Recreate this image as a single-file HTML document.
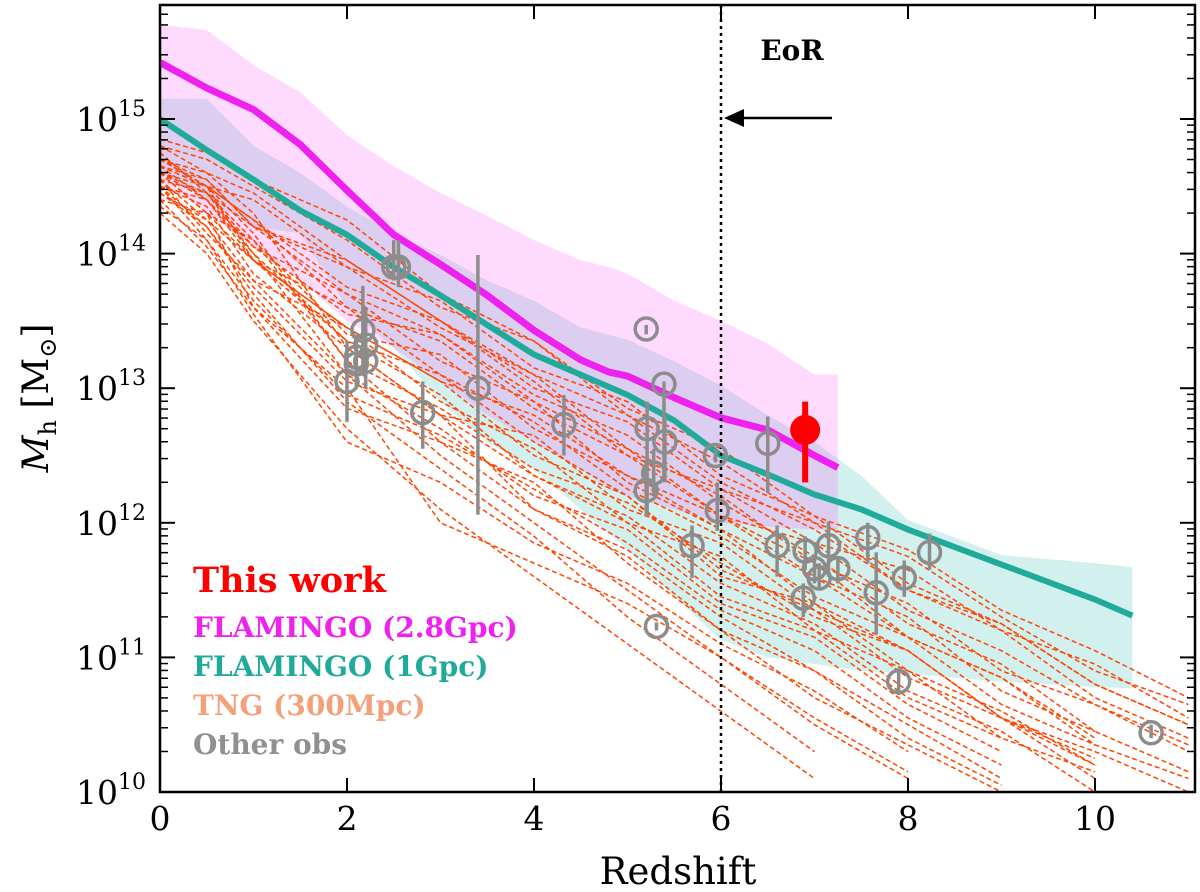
<!DOCTYPE html>
<html><head><meta charset="utf-8"><style>
html,body{margin:0;padding:0;background:#fff;}
svg{display:block;font-family:"DejaVu Serif","Liberation Serif",serif;}
</style></head><body>
<svg id="chart" width="1200" height="892" viewBox="0 0 1200 892">
<defs><clipPath id="clip"><rect x="160" y="5" width="1035" height="787"/></clipPath></defs>
<g id="bands" clip-path="url(#clip)"></g>
<g id="tng" clip-path="url(#clip)"></g>
<g id="lines" clip-path="url(#clip)"></g>
<line x1="721" y1="5" x2="721" y2="792" stroke="#000" stroke-width="2.5" stroke-dasharray="3,4"/>
<g id="obs" clip-path="url(#clip)"></g>
<g id="axes"></g>
<text x="792" y="60" font-size="28" font-weight="bold" text-anchor="middle">EoR</text>
<line x1="832" y1="118" x2="740" y2="118" stroke="#000" stroke-width="2.5"/>
<polygon points="724,118 744,109 744,127" fill="#000"/>
<g font-weight="bold" font-size="28">
<text x="193" y="592" fill="#ff0000" font-size="35">This work</text>
<text x="193" y="637" fill="#ee22ee">FLAMINGO (2.8Gpc)</text>
<text x="193" y="676" fill="#20aa9a">FLAMINGO (1Gpc)</text>
<text x="193" y="715" fill="#f4a07a">TNG (300Mpc)</text>
<text x="193" y="754" fill="#909090">Other obs</text>
</g>
<text x="678" y="884" font-size="37" text-anchor="middle">Redshift</text>
<text transform="translate(48,398) rotate(-90)" font-size="36" text-anchor="middle"><tspan font-style="italic">M</tspan><tspan font-size="24" dy="8">h</tspan><tspan dy="-8"> [M</tspan><tspan font-size="24" dy="8">⊙</tspan><tspan dy="-8">]</tspan></text>
</svg>
<script>
const magZ=[0,0.5,1,1.5,2,2.5,3,3.5,4,4.5,4.8,5,5.5,6,6.5,7,7.25];
const magLine=[15.42,15.23,15.07,14.81,14.47,14.14,13.92,13.69,13.43,13.21,13.12,13.09,12.93,12.78,12.69,12.50,12.41];
const magUp=[15.7,15.66,15.4,15.2,14.88,14.65,14.45,14.28,14.1,13.95,13.9,13.85,13.65,13.5,13.33,13.1,13.1];
const magLo=[14.55,14.3,14.05,13.8,13.5,13.3,13.05,12.8,12.6,12.4,12.25,12.2,12.1,12.0,11.97,11.95,11.95];
const tealZ=[0,0.5,1,1.5,2,2.5,3,3.5,4,4.5,5,5.5,6,6.5,7,7.5,8,9,10,10.4];
const tealLine=[15.0,14.77,14.55,14.32,14.14,13.9,13.69,13.47,13.25,13.1,12.95,12.76,12.5,12.36,12.21,12.1,11.95,11.69,11.43,11.31];
const tealUp=[15.15,15.15,14.8,14.6,14.35,14.15,13.99,13.8,13.65,13.45,13.36,13.2,13.02,12.8,12.6,12.35,12.02,11.76,11.7,11.67];
const tealLo=[14.6,14.4,14.2,14.15,13.6,13.3,12.9,12.6,12.4,12.1,11.8,11.45,11.13,11.0,10.95,10.9,10.88,10.82,10.78,10.77];
const tngZ=[0,0.5,1,2,3,4,5,6,7,8,9,10,11];
const tngLines=[
[14.8,14.7,14.5,14.1,13.6,13.35,12.8,12.45,12.0,11.75,11.3,10.9,10.65],
[14.7,14.55,14.2,13.95,13.5,13.1,12.8,12.3,11.95,11.5,11.25,10.8,10.5],
[14.6,14.5,14.25,13.6,13.35,12.85,12.5,12.05,11.85,11.35,11.05,10.65,10.35],
[14.75,14.45,14.1,13.4,13.25,12.7,12.35,11.95,11.6,11.15,10.85,10.4,null],
[14.5,14.35,13.85,13.3,12.8,12.65,12.1,11.85,11.35,11.05,10.55,10.2,null],
[14.65,14.4,14.05,13.55,13.4,12.95,12.65,12.15,11.75,11.25,10.95,10.45,10.15],
[14.55,14.15,13.8,13.1,12.7,12.2,11.95,11.4,11.15,10.65,10.3,null,null],
[14.8,14.6,14.45,13.95,13.5,13.05,12.5,12.25,11.85,11.65,11.2,10.95,10.55],
[14.6,14.3,13.95,13.45,13.05,12.8,12.35,12.05,11.6,11.3,10.75,10.45,null],
[14.7,14.5,13.95,13.35,12.95,12.35,12.05,11.55,11.25,10.75,10.45,10.0,null],
[14.5,14.1,13.65,12.95,12.65,12.25,11.85,11.35,11.05,10.55,10.2,null,null],
[14.85,14.75,14.55,14.25,13.7,13.35,12.85,12.55,12.05,11.8,11.35,11.05,10.7],
[14.6,14.45,14.05,13.7,13.2,12.9,12.3,11.95,11.4,11.05,10.55,10.25,null],
[14.4,14.05,13.6,12.85,12.6,12.1,11.75,11.2,10.9,10.4,10.05,null,null],
[14.7,14.5,14.25,13.75,13.5,13.0,12.75,12.25,12.0,11.5,11.2,10.7,10.4],
[14.55,14.25,13.95,13.45,13.05,12.5,12.2,11.65,11.35,10.85,10.55,10.1,null],
[14.65,14.55,14.2,13.9,13.45,13.1,12.55,12.2,11.7,11.4,10.9,10.65,10.3],
[14.5,14.2,13.75,13.05,12.8,12.35,12.0,11.45,11.2,10.7,10.4,null,null],
[14.75,14.45,14.2,13.7,13.4,12.9,12.55,12.05,11.7,11.15,10.85,10.35,10.1],
[14.6,14.4,13.95,13.6,13.1,12.75,12.25,11.9,11.45,11.15,10.65,10.35,null],
[14.45,14.25,13.8,13.45,12.9,12.55,12.0,11.75,11.2,10.9,10.4,10.15,null],
[14.7,14.5,14.4,13.9,13.65,13.15,12.9,12.35,12.05,11.55,11.25,10.8,10.5],
[14.55,14.45,14.0,13.35,13.1,12.6,12.2,11.6,11.4,10.9,10.6,10.2,null],
[14.4,14.3,14.1,13.2,12.85,12.4,12.15,11.7,11.3,11.05,10.55,10.3,10.0],
[14.3,14.0,13.5,12.7,12.1,11.6,11.1,10.6,10.1,null,null,null,null],
[14.45,14.2,13.7,12.9,12.4,11.9,11.3,10.8,10.3,null,null,null,null],
[14.6,14.3,13.6,13.0,12.0,11.7,11.4,11.0,10.5,10.1,null,null,null],
[14.5,14.4,14.0,13.1,12.5,12.0,11.5,11.0,10.55,10.15,null,null,null],
[14.7,14.6,14.3,13.3,12.8,12.1,11.8,11.3,10.9,10.5,10.1,null,null],
[14.35,14.1,13.55,12.6,12.3,11.85,11.55,11.1,10.75,10.3,null,null,null],
[14.65,14.5,14.15,13.2,12.6,12.3,11.7,11.2,10.7,10.35,10.0,null,null]
];
const obsZ=[2.0,2.1,2.17,2.2,2.2,2.1,2.5,2.55,2.81,3.4,4.32,5.2,5.39,5.21,5.4,5.28,5.2,5.94,5.96,5.69,5.31,6.5,6.6,6.9,7.15,7.0,7.25,7.05,6.88,7.57,7.66,7.96,8.23,7.9,10.6];
const obsM=[13.05,13.23,13.43,13.32,13.2,13.18,13.9,13.9,12.82,13.0,12.73,13.44,13.03,12.7,12.6,12.37,12.24,12.5,12.09,11.83,11.23,12.59,11.83,11.79,11.83,11.66,11.66,11.59,11.44,11.89,11.48,11.59,11.78,10.82,10.44];
const obsLo=[12.75,13.0,13.1,13.0,13.0,13.0,13.8,13.75,12.55,12.06,12.5,13.4,12.31,12.07,12.3,12.2,12.05,12.45,11.94,11.59,11.2,12.22,11.6,11.65,11.6,11.55,11.55,11.5,11.3,11.7,11.17,11.45,11.65,10.72,10.4];
const obsHi=[13.35,13.4,13.76,13.6,13.4,13.35,14.1,14.1,13.05,13.99,12.95,13.47,13.05,12.9,12.8,12.55,12.45,12.55,12.3,11.98,11.26,12.79,11.98,11.9,12.01,11.75,11.75,11.7,11.55,12.0,11.78,11.72,11.92,10.92,10.5];
const thisZ=[6.9], thisM=[12.69], thisLo=[12.3], thisHi=[12.9];
const xTicks=[0,2,4,6,8,10];
const yTicks=[10,11,12,13,14,15];

const X=z=>160+93.5*z, Y=l=>792-134.6*(l-10);
const NS='http://www.w3.org/2000/svg';
function mk(tag,attrs,parent){const e=document.createElementNS(NS,tag);for(const k in attrs)e.setAttribute(k,attrs[k]);parent.appendChild(e);return e;}
function band(zs,up,lo){let p=zs.map((z,i)=>X(z)+','+Y(up[i]));for(let i=zs.length-1;i>=0;i--)p.push(X(zs[i])+','+Y(lo[i]));return p.join(' ');}
const bands=document.getElementById('bands');
let b1=mk('polygon',{points:band(tealZ,tealUp,tealLo),fill:'#20b2aa','fill-opacity':0.2},bands);


let b2=mk('polygon',{points:band(magZ,magUp,magLo),fill:'#ff44ff','fill-opacity':0.2},bands);


const tng=document.getElementById('tng');
tngLines.forEach(arr=>{const pts=[];arr.forEach((v,i)=>{if(v!==null)pts.push(X(tngZ[i])+','+Y(v));});
 const l=mk('polyline',{points:pts.join(' '),fill:'none',stroke:'#ff4500','stroke-width':1.5,'stroke-dasharray':'5,3'},tng);
 
 });
const lines=document.getElementById('lines');
let l1=mk('polyline',{points:tealZ.map((z,i)=>X(z)+','+Y(tealLine[i])).join(' '),fill:'none',stroke:'#20aa9a','stroke-width':6},lines);


let l2=mk('polyline',{points:magZ.map((z,i)=>X(z)+','+Y(magLine[i])).join(' '),fill:'none',stroke:'#ee22ee','stroke-width':7},lines);


const obs=document.getElementById('obs');
obsZ.forEach((z,i)=>{const g=mk('g',{},obs);
 
 
 mk('line',{x1:X(z),x2:X(z),y1:Y(obsLo[i]),y2:Y(obsHi[i]),stroke:'#8c8c8c','stroke-width':3.5},g);
 mk('circle',{cx:X(z),cy:Y(obsM[i]),r:11,fill:'none',stroke:'#8c8c8c','stroke-width':3.5},g);});
thisZ.forEach((z,i)=>{const g=mk('g',{},obs);
 
 
 mk('line',{x1:X(z),x2:X(z),y1:Y(thisLo[i]),y2:Y(thisHi[i]),stroke:'#ff0000','stroke-width':6},g);
 mk('circle',{cx:X(z),cy:Y(thisM[i]),r:15,fill:'#ff0000'},g);});
const ax=document.getElementById('axes');
mk('rect',{x:160,y:5,width:1035,height:787,fill:'none',stroke:'#000','stroke-width':2.5},ax);
xTicks.forEach(t=>{const x=X(t);
 mk('line',{x1:x,x2:x,y1:792,y2:778,stroke:'#000','stroke-width':2},ax);
 mk('line',{x1:x,x2:x,y1:5,y2:19,stroke:'#000','stroke-width':2},ax);
 const tx=mk('text',{x:x,y:830,'font-size':33,'text-anchor':'middle'},ax);tx.textContent=t;
 
 });
for(let d=9;d<=15;d++){for(let m=2;m<=9;m++){const y=Y(d+Math.log10(m));if(y<5||y>792)continue;
 mk('line',{x1:160,x2:168,y1:y,y2:y,stroke:'#000','stroke-width':1.5},ax);
 mk('line',{x1:1195,x2:1187,y1:y,y2:y,stroke:'#000','stroke-width':1.5},ax);}}
yTicks.forEach(t=>{const y=Y(t);
 mk('line',{x1:160,x2:175,y1:y,y2:y,stroke:'#000','stroke-width':2},ax);
 mk('line',{x1:1195,x2:1180,y1:y,y2:y,stroke:'#000','stroke-width':2},ax);
 const tx=mk('text',{x:146,y:y+12,'font-size':33,'text-anchor':'end'},ax);
 tx.innerHTML='10<tspan font-size="22" dy="-15">'+t+'</tspan>';
 
 });
</script>
</body></html>
